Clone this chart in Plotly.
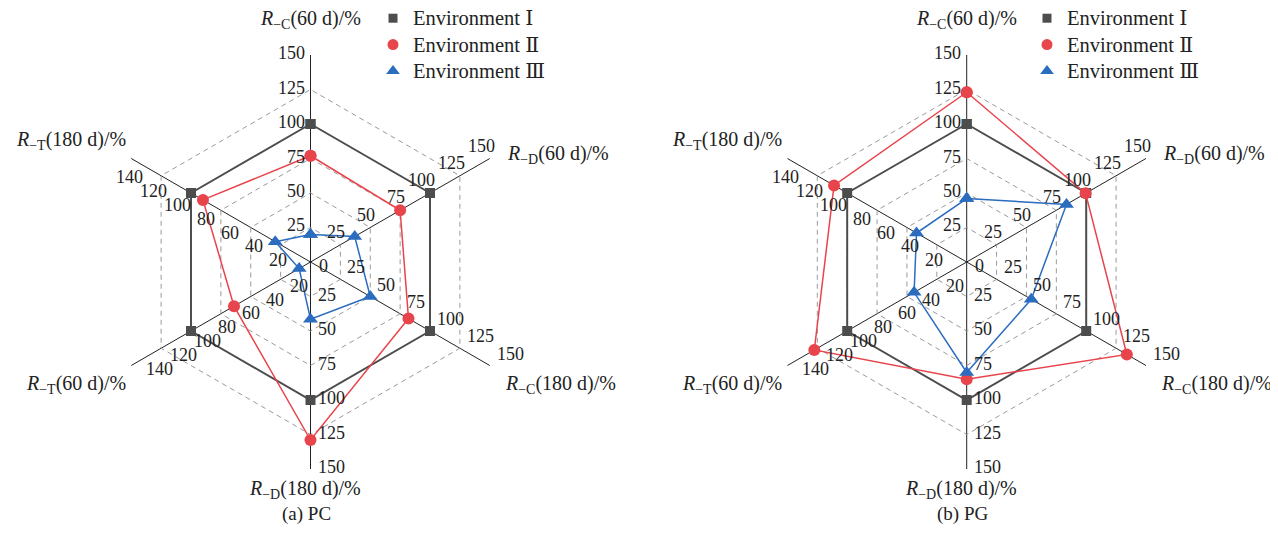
import math
import plotly.graph_objects as go

# ---------------- data ----------------
categories = ["R_C(60 d)", "R_D(60 d)", "R_C(180 d)", "R_D(180 d)", "R_T(60 d)", "R_T(180 d)"]
axis_titles = [
    "<i>R</i><sub>−C</sub>(60 d)/%",
    "<i>R</i><sub>−D</sub>(60 d)/%",
    "<i>R</i><sub>−C</sub>(180 d)/%",
    "<i>R</i><sub>−D</sub>(180 d)/%",
    "<i>R</i><sub>−T</sub>(60 d)/%",
    "<i>R</i><sub>−T</sub>(180 d)/%",
]
series_names = ["Environment Ⅰ", "Environment Ⅱ", "Environment Ⅲ"]

pc_env1 = [100, 100, 100, 100, 100, 100]
pc_env2 = [77, 75, 82, 129, 64, 90]
pc_env3 = [20, 37, 50, 41.5, 9.5, 29.5]

pg_env1 = [100, 100, 100, 100, 100, 100]
pg_env2 = [123, 99.5, 134, 85, 127.5, 111]
pg_env3 = [46, 83.5, 54, 80, 44, 42]

cd_ticks = [25, 50, 75, 100, 125, 150]
t_ticks = [20, 40, 60, 80, 100, 120, 140]
captions = ["(a) PC", "(b) PG"]

# ---------------- style ----------------
PAGE_OFF = 8            # browser body margin
W, H = 1270, 528
RMAX = 150
R_PX = 207
centers = [(310.5, 262), (966.7, 262)]   # in window pixels
colors = ["#4d4d4d", "#e8444c", "#2b6cbf"]
symbols = ["square", "circle", "triangle-up"]
msizes = [10, 12, 13]
lwidths = [2, 1.5, 1.5]
FONT = "Liberation Serif, DejaVu Serif, serif"

angles = [90, 30, -30, -90, -150, 150]
axis_ticks = [cd_ticks, cd_ticks, cd_ticks, cd_ticks, t_ticks, t_ticks]
tick_place = [("right", -4, -2), ("right", 7, -13), ("left", 5, -12),
              ("left", 5, -2), ("left", 1, 10), ("right", 2, 12)]
title_place = [("center", 0, -36), ("left", 15, -4), ("left", 13, 19),
               ("center", -6, 20), ("right", -3, 19), ("right", -3, -18)]


def to_paper(px, py):
    return (px - PAGE_OFF) / W, 1 - (py - PAGE_OFF) / H


def point(ci, ang, val):
    cx, cy = centers[ci]
    r = val / RMAX * R_PX
    return cx + r * math.cos(math.radians(ang)), cy - r * math.sin(math.radians(ang))


fig = go.Figure()
datasets = [[pc_env1, pc_env2, pc_env3], [pg_env1, pg_env2, pg_env3]]
for ci, (subplot, legend) in enumerate([("polar", "legend"), ("polar2", "legend2")]):
    for si, vals in enumerate(datasets[ci]):
        fig.add_trace(go.Scatterpolar(
            r=vals + vals[:1], theta=categories + categories[:1],
            mode="lines+markers", subplot=subplot, showlegend=False,
            line=dict(color=colors[si], width=lwidths[si]),
            marker=dict(symbol=symbols[si], size=msizes[si], color=colors[si]),
            cliponaxis=False,
        ))
    for si in range(3):
        fig.add_trace(go.Scatterpolar(
            r=[None], theta=[None], mode="markers", subplot=subplot,
            name='<span style="font-size:20.5px">' + series_names[si] + "</span>",
            legend=legend,
            marker=dict(symbol=symbols[si], size=msizes[si] - 1, color=colors[si]),
        ))

annotations = []
for ci in range(2):
    for ai, ang in enumerate(angles):
        xa, dx, dy = tick_place[ai]
        for v in axis_ticks[ai]:
            px, py = point(ci, ang, v)
            x, y = to_paper(px + dx, py + dy)
            annotations.append(dict(x=x, y=y, xref="paper", yref="paper", text=str(v),
                                    showarrow=False, xanchor=xa, yanchor="middle",
                                    font=dict(family=FONT, size=18, color="#222")))
        xa, dx, dy = title_place[ai]
        px, py = point(ci, ang, RMAX)
        x, y = to_paper(px + dx, py + dy)
        annotations.append(dict(x=x, y=y, xref="paper", yref="paper", text=axis_titles[ai],
                                showarrow=False, xanchor=xa, yanchor="middle",
                                font=dict(family=FONT, size=20, color="#222")))
    px, py = point(ci, 0, 0)
    x, y = to_paper(px + 6, py + 4)
    annotations.append(dict(x=x, y=y, xref="paper", yref="paper", text="0",
                            showarrow=False, xanchor="left", yanchor="middle",
                            font=dict(family=FONT, size=18, color="#222")))
    px, py = point(ci, -90, 0)
    x, y = to_paper(px - 4, 514)
    annotations.append(dict(x=x, y=y, xref="paper", yref="paper", text=captions[ci],
                            showarrow=False, xanchor="center", yanchor="middle",
                            font=dict(family=FONT, size=19, color="#222")))


def polar_layout(ci):
    cx, cy = centers[ci]
    x0, y1 = to_paper(cx - R_PX, cy - R_PX)
    x1, y0 = to_paper(cx + R_PX, cy + R_PX)
    return dict(
        domain=dict(x=[x0, x1], y=[y0, y1]),
        bgcolor="rgba(0,0,0,0)",
        gridshape="linear",
        radialaxis=dict(range=[0, RMAX], tickvals=cd_ticks, showticklabels=False,
                        ticks="", showline=False, gridcolor="#9a9a9a", gridwidth=1,
                        griddash="5px,4px"),
        angularaxis=dict(categoryarray=categories, type="category", rotation=90,
                         direction="clockwise", showticklabels=False, ticks="",
                         showline=False, gridcolor="#222", gridwidth=1.2),
    )


lx1, ly = to_paper(373, 0)
lx2, _ = to_paper(1027, 0)
fig.update_layout(
    width=W, height=H,
    margin=dict(l=0, r=0, t=0, b=0, autoexpand=False),
    paper_bgcolor="white", plot_bgcolor="white",
    polar=polar_layout(0), polar2=polar_layout(1),
    annotations=annotations,
    legend=dict(x=lx1, y=ly, xanchor="left", yanchor="top",
                font=dict(family=FONT, size=18, color="#222"), bgcolor="rgba(0,0,0,0)",
                tracegroupgap=0),
    legend2=dict(x=lx2, y=ly, xanchor="left", yanchor="top",
                 font=dict(family=FONT, size=18, color="#222"), bgcolor="rgba(0,0,0,0)",
                 tracegroupgap=0),
)

fig.write_html("out.html")
